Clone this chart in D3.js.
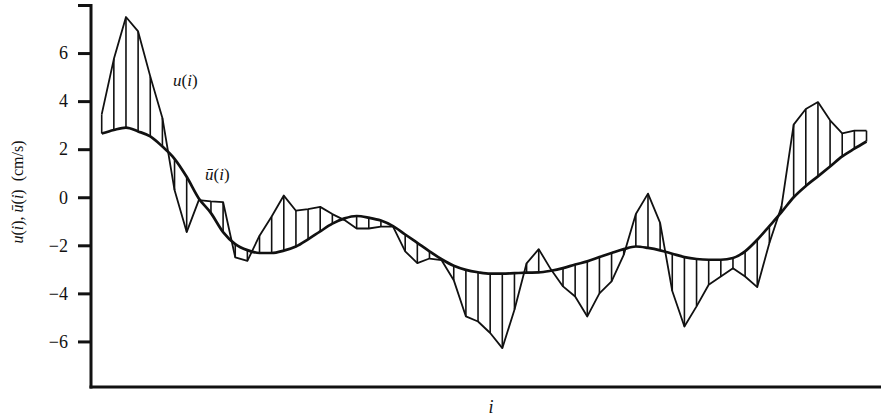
<!DOCTYPE html>
<html>
<head>
<meta charset="utf-8">
<script src="https://cdn.jsdelivr.net/npm/d3@7"></script>
<style>
  html, body { margin: 0; padding: 0; background: #fff; }
  svg text { font-family: "Liberation Serif", "DejaVu Serif", serif; fill: #111; }
</style>
</head>
<body>
<svg id="chart" width="890" height="418"></svg>
<script>
// Sample index i = 0 .. 63
const index = d3.range(64);

// Measured velocity u(i), cm/s
const uValues = [
  3.45, 5.75, 7.50, 6.90, 5.03, 3.30, 0.30, -1.45, -0.12, -0.17,
  -0.20, -2.50, -2.65, -1.60, -0.80, 0.07, -0.56, -0.49, -0.40, -0.70,
  -0.95, -1.30, -1.30, -1.22, -1.22, -2.25, -2.74, -2.55, -2.62, -3.45,
  -4.96, -5.17, -5.65, -6.28, -4.68, -2.75, -2.16, -3.00, -3.71, -4.13,
  -4.96, -4.00, -3.50, -2.40, -0.70, 0.15, -1.07, -3.90, -5.38, -4.54,
  -3.64, -3.30, -2.95, -3.30, -3.74, -1.90, -0.38, 3.02, 3.67, 3.96,
  3.20, 2.66, 2.77, 2.77
];

// Smoothed velocity ū(i), cm/s
const uBarValues = [
  2.65, 2.80, 2.90, 2.74, 2.53, 2.11, 1.60, 0.85, -0.05, -0.66,
  -1.45, -1.95, -2.20, -2.32, -2.32, -2.22, -2.05, -1.75, -1.42, -1.10,
  -0.88, -0.78, -0.85, -0.97, -1.20, -1.55, -1.90, -2.25, -2.58, -2.85,
  -3.02, -3.12, -3.18, -3.18, -3.16, -3.14, -3.13, -3.06, -2.95, -2.80,
  -2.67, -2.49, -2.32, -2.16, -2.05, -2.11, -2.21, -2.35, -2.49, -2.57,
  -2.60, -2.60, -2.53, -2.25, -1.77, -1.20, -0.62, 0.00, 0.47, 0.87,
  1.28, 1.70, 2.02, 2.32
];

// Y-axis tick values (8 is marked but left unlabeled)
const yTickValues = [-6, -4, -2, 0, 2, 4, 6, 8];

const svg = d3.select("#chart");

const x = d3.scaleLinear().domain([0, 63]).range([101.7, 866.5]);
const y = d3.scaleLinear().domain([-8, 8]).range([389.5, 5]);

const frameLeft = 91, frameBottom = 387, frameRight = 881;

const data = index.map(i => ({ i, u: uValues[i], ub: uBarValues[i] }));

// Vertical hatching between the two curves at every sample
svg.append("g")
  .selectAll("line")
  .data(data)
  .join("line")
  .attr("x1", d => x(d.i)).attr("x2", d => x(d.i))
  .attr("y1", d => y(d.u)).attr("y2", d => y(d.ub))
  .attr("stroke", "#111")
  .attr("stroke-width", 1.6);

// Raw series u(i)
svg.append("path")
  .datum(data)
  .attr("fill", "none")
  .attr("stroke", "#111")
  .attr("stroke-width", 1.8)
  .attr("stroke-linejoin", "round")
  .attr("d", d3.line().x(d => x(d.i)).y(d => y(d.u)));

// Smoothed series ū(i)
svg.append("path")
  .datum(data)
  .attr("fill", "none")
  .attr("stroke", "#111")
  .attr("stroke-width", 2.7)
  .attr("stroke-linejoin", "round")
  .attr("d", d3.line().curve(d3.curveMonotoneX).x(d => x(d.i)).y(d => y(d.ub)));

// Y axis
const yAxis = d3.axisLeft(y)
  .tickValues(yTickValues)
  .tickSize(13)
  .tickSizeOuter(0)
  .tickPadding(10)
  .tickFormat(d => d === 8 ? "" : d3.format("d")(d));

const gy = svg.append("g")
  .attr("transform", `translate(${frameLeft},0)`)
  .call(yAxis);
gy.select(".domain").remove();
gy.selectAll(".tick line").attr("stroke", "#111").attr("stroke-width", 3);
gy.selectAll(".tick text")
  .attr("font-size", 18)
  .attr("font-family", "Liberation Serif, serif")
  .attr("fill", "#111");

// Frame: left spine and bottom axis line
svg.append("line")
  .attr("x1", frameLeft).attr("x2", frameLeft)
  .attr("y1", y(8) - 1).attr("y2", frameBottom + 1.5)
  .attr("stroke", "#111").attr("stroke-width", 3);
svg.append("line")
  .attr("x1", frameLeft - 1.5).attr("x2", frameRight)
  .attr("y1", frameBottom).attr("y2", frameBottom)
  .attr("stroke", "#111").attr("stroke-width", 3);

// Series labels
const lab1 = svg.append("text").attr("x", 173).attr("y", 86).attr("font-size", 17);
lab1.append("tspan").attr("font-style", "italic").text("u");
lab1.append("tspan").text("(");
lab1.append("tspan").attr("font-style", "italic").text("i");
lab1.append("tspan").text(")");

const lab2 = svg.append("text").attr("x", 205).attr("y", 180).attr("font-size", 17);
lab2.append("tspan").attr("font-style", "italic").text("ū");
lab2.append("tspan").text("(");
lab2.append("tspan").attr("font-style", "italic").text("i");
lab2.append("tspan").text(")");

// Y-axis title
const yt = svg.append("text")
  .attr("transform", "translate(23,192) rotate(-90)")
  .attr("text-anchor", "middle")
  .attr("font-size", 16);
yt.append("tspan").attr("font-style", "italic").text("u");
yt.append("tspan").text("(");
yt.append("tspan").attr("font-style", "italic").text("i");
yt.append("tspan").text("), ");
yt.append("tspan").attr("font-style", "italic").text("ū");
yt.append("tspan").text("(");
yt.append("tspan").attr("font-style", "italic").text("i");
yt.append("tspan").text(")\u00a0\u00a0(cm/s)");

// X-axis title
svg.append("text")
  .attr("x", 491).attr("y", 413)
  .attr("text-anchor", "middle")
  .attr("font-size", 18)
  .attr("font-style", "italic")
  .text("i");
</script>
</body>
</html>
